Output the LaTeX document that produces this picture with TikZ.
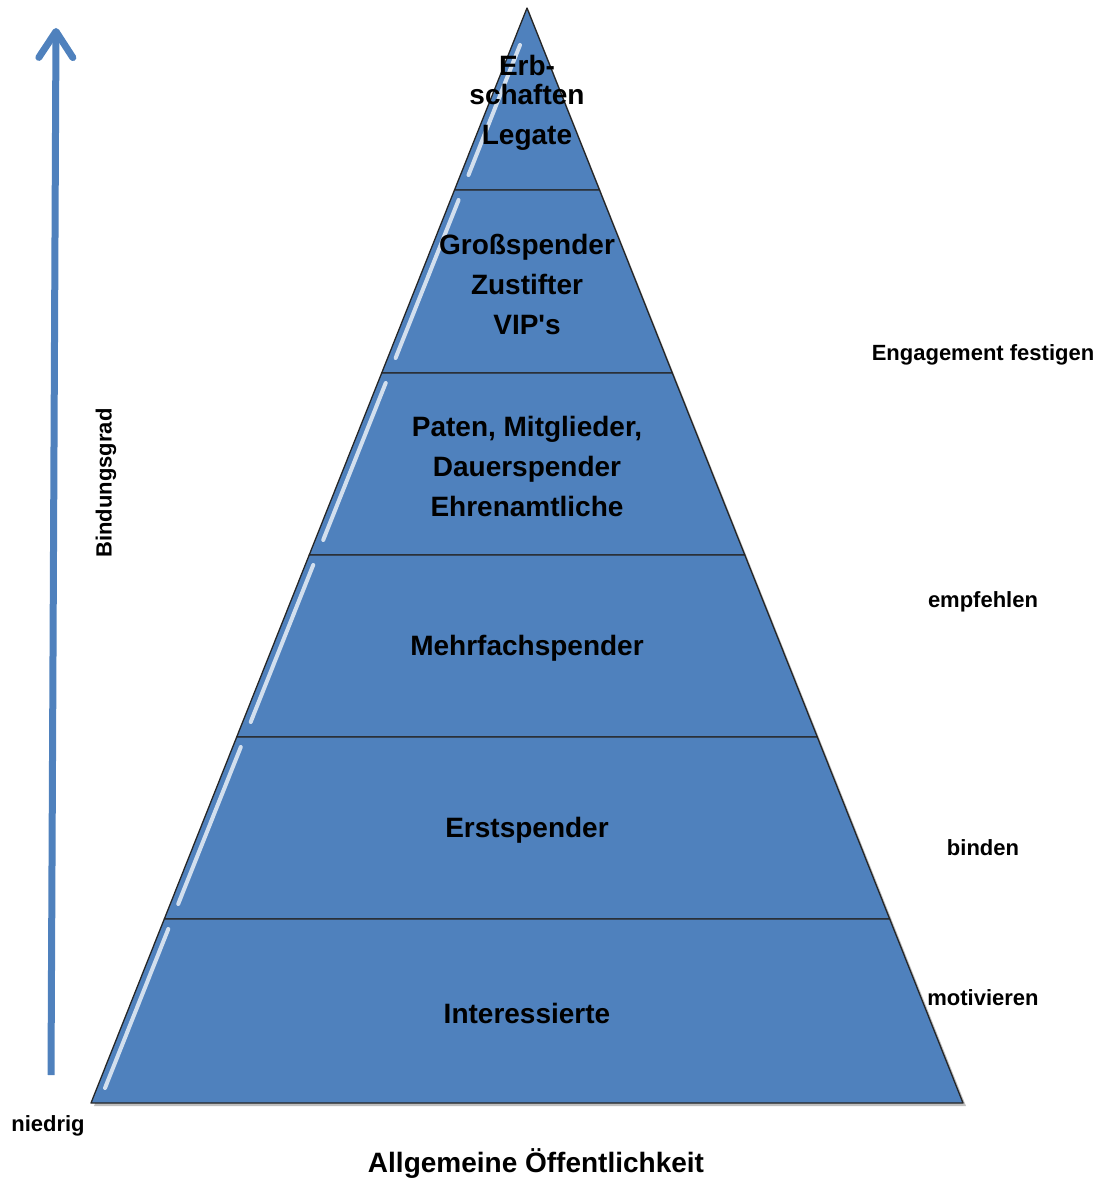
\documentclass[tikz,border=0pt]{standalone}
\usepackage{fontspec}
\setmainfont{Liberation Sans}
\usetikzlibrary{arrows.meta}
\definecolor{pyrblue}{HTML}{4F81BD}
\begin{document}
\begin{tikzpicture}[x=1pt,y=-1pt,
  layer/.style={fill=pyrblue,draw=black!85,line width=1.3pt,line join=round},
  drop/.style={fill=black,opacity=0.25},
  gloss/.style={white,line width=4pt,line cap=round,opacity=0.75},
  level/.style={font=\fontsize{28}{40}\selectfont\bfseries,align=center,inner sep=0pt},
  action/.style={font=\fontsize{22}{26}\selectfont\bfseries,inner sep=0pt},
  rise/.style={pyrblue,line width=7pt,-{Straight Barb[length=26pt,width=34pt,round]}}]
\useasboundingbox (0,0) rectangle (1105,1182);
% shadow of the pyramid
\fill[drop] (529,11) -- (966,1106) -- (94,1106) -- cycle;
% the six layers, top to bottom
\filldraw[layer] (527,8) -- (599.5,190) -- (454.5,190) -- cycle;
\filldraw[layer] (454.5,190) -- (599.5,190) -- (672.3,373) -- (381.7,373) -- cycle;
\filldraw[layer] (381.7,373) -- (672.3,373) -- (744.8,555) -- (309.2,555) -- cycle;
\filldraw[layer] (309.2,555) -- (744.8,555) -- (817.3,737) -- (236.7,737) -- cycle;
\filldraw[layer] (236.7,737) -- (817.3,737) -- (889.7,919) -- (164.3,919) -- cycle;
\filldraw[layer] (164.3,919) -- (889.7,919) -- (963,1103) -- (91,1103) -- cycle;
% glossy edges
\draw[gloss] (520,45) -- (468.5,175);
\draw[gloss] (458.6,200) -- (395.6,358);
\draw[gloss] (385.7,383) -- (323.2,540);
\draw[gloss] (313.2,565) -- (250.7,722);
\draw[gloss] (240.8,747) -- (178.2,904);
\draw[gloss] (168.3,929) -- (105,1088);
% labels of the layers
\node[level] (legate) at (527,103) {Erb-\\[-11pt]schaften\\Legate};
\node[level] (gross) at (527,284) {Großspender\\Zustifter\\VIP\textquotesingle s};
\node[level] (paten) at (527,466) {Paten, Mitglieder,\\Dauerspender\\Ehrenamtliche};
\node[level] (mehrfach) at (527,648) {Mehrfachspender};
\node[level] (erst) at (527,830) {Erstspender};
\node[level] (interessierte) at (527,1013) {Interessierte};
% actions on the right
\node[action] (festigen) at (983,355) {Engagement festigen};
\node[action] (empfehlen) at (983,602) {empfehlen};
\node[action] (binden) at (983,848) {binden};
\node[action] (motivieren) at (983,998) {motivieren};
% axis on the left
\coordinate (low) at (51,1075);
\coordinate (high) at (56,28);
\draw[rise] (low) -- (high);
\node[action,rotate=90] (grad) at (106,483) {Bindungsgrad};
\node[action] (niedrig) at (48,1126) {niedrig};
\node[level] (publikum) at (536,1163) {Allgemeine Öffentlichkeit};
\end{tikzpicture}
\end{document}
